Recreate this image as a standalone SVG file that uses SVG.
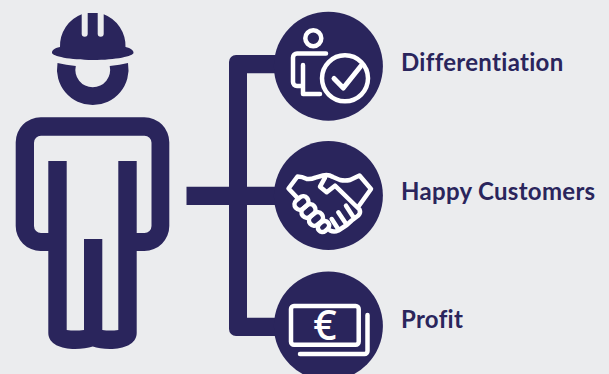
<svg xmlns="http://www.w3.org/2000/svg" width="609" height="374" viewBox="0 0 609 374">
<style>
.d{fill:#2a255c}
.w{fill:none;stroke:#fff;stroke-width:4.500;stroke-linecap:round;stroke-linejoin:round}
.t{font-family:"Lato","Noto Sans",sans-serif;font-weight:700;font-size:24px;letter-spacing:.3px;font-variant-ligatures:none;fill:#2a255c}
</style>
<rect width="609" height="374" fill="#ebecee"/>
<g id="worker">
<path class="d" d="M81.700 14.200A33 34 0 0 0 60 47C54 48 52 50.500 52 52.700C52 56 70 60 92.800 60C116 60 133.500 56 133.500 52.700C133.500 50.500 131 48 125.500 47A33 34 0 0 0 103.700 14.200V33.700A3 3 0 0 1 97.700 33.700V13H87.700V33.700A3 3 0 0 1 81.700 33.700Z"/>
<path class="d" d="M57.500 63Q66 65 75.800 66A17.400 17.400 0 1 0 109.700 66Q120 65 128 63A35.800 35.800 0 1 1 57.500 63Z"/>
<path class="d" fill-rule="evenodd" d="M40.700 117.300H144.300A25 25 0 0 1 169.300 142.300V226A25 25 0 0 1 144.300 251H136.700V333C136.700 344 124 349 110 349C103 349 97 348 92.800 346.500C88 348 82 349 75 349C61 349 48.300 344 48.300 333V251H40.700A25 25 0 0 1 15.700 226V142.300A25 25 0 0 1 40.700 117.300ZM41 135.700A7 7 0 0 0 34 142.700V226A7 7 0 0 0 41 233H48.300V161H66.700V330Q75 331 84 330V239H102.300V330Q110 331 118.300 330V161H136.700V233H144.500A7 7 0 0 0 151.500 226V142.700A7 7 0 0 0 144.500 135.700Z"/>
</g>
<g id="connectors">
<path class="d" d="M186.500 186.700H229V62A7 7 0 0 1 236 55H290V73.300H247V186.700H290V205H247V317.700H290V336H236A7 7 0 0 1 229 329V205H186.500Z"/>
</g>
<g id="differentiation">
<circle class="d" cx="328.400" cy="66.200" r="54.500"/>
<circle class="w" cx="313.300" cy="38.300" r="8"/>
<path class="w" d="M326 53.500H297A4 4 0 0 0 293 57.500V82A4 4 0 0 0 297 86H303M303 65V94H320"/>
<circle class="w" cx="345" cy="78.300" r="23"/>
<path class="w" style="stroke-width:5" d="M334 78.500L343.300 88L360.500 66.500"/>
<text class="t" x="401" y="71">Differentiation</text>
</g>
<g id="happy-customers">
<circle class="d" cx="328.400" cy="195.500" r="54.500"/>
<path class="w" d="M298 198.500L288.500 188.500L297.500 176.500Q302 176.500 307 179Q311 179.500 315.300 177.700L323 175.500Q328 174 333 177L340 180Q345 181 350 180L359.500 175.500L371 189L358.500 206.500"/>
<path class="w" d="M325 177.700L320 186.700L326.700 192.300L335 185.700L359.500 209.500Q361 213 358.300 215.500L351.700 220.500L346.700 225L338.300 230.500Q334 232.500 330 230.500M346 205.700L353.300 217M338.300 212.300L345.500 223M331.700 219L337.500 228"/>
<g class="w">
<rect x="-5.300" y="-7.500" width="10.600" height="15" rx="5.300" transform="translate(301.500 203) rotate(50)"/>
<rect x="-5.300" y="-7.500" width="10.600" height="15" rx="5.300" transform="translate(308.500 211) rotate(50)"/>
<rect x="-5.300" y="-7.500" width="10.600" height="15" rx="5.300" transform="translate(316 219) rotate(50)"/>
<rect x="-4.500" y="-6" width="9" height="12" rx="4.500" transform="translate(323.500 226.500) rotate(50)"/>
</g>
<text class="t" x="401" y="199.500">Happy Customers</text>
</g>
<g id="profit">
<circle class="d" cx="328.400" cy="326" r="54.500"/>
<rect class="w" x="291" y="306" width="67.700" height="38.700" rx="3"/>
<path class="w" d="M300 354H364.500A3 3 0 0 0 367.500 351V315"/>
<text x="325" y="340" text-anchor="middle" font-family="'Noto Sans',sans-serif" font-weight="500" font-size="41" fill="#fff">€</text>
<text class="t" x="401" y="327.500">Profit</text>
</g>
</svg>
